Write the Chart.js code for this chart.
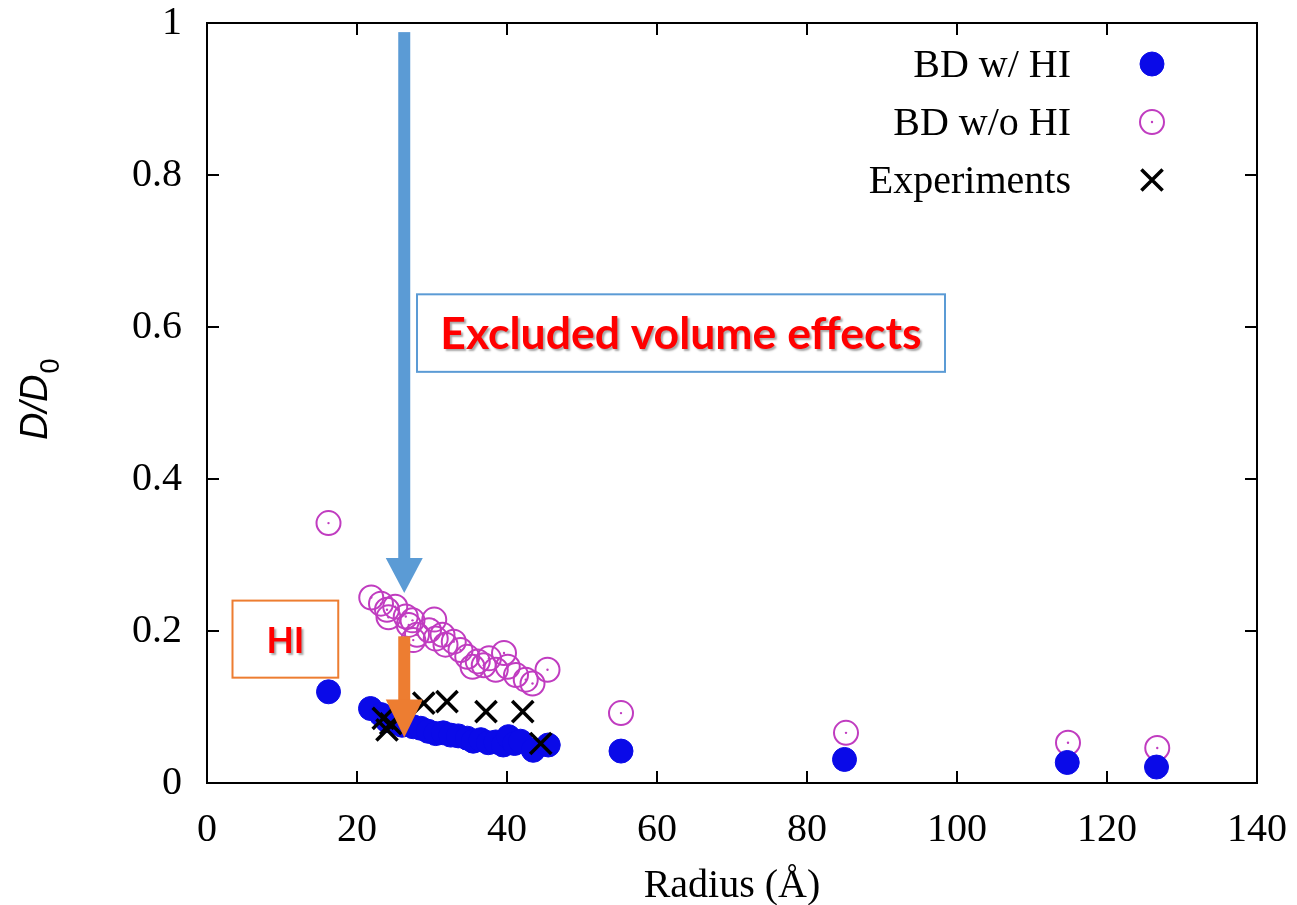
<!DOCTYPE html>
<html>
<head>
<meta charset="utf-8">
<script src="https://cdn.jsdelivr.net/npm/chart.js@4.4.1/dist/chart.umd.min.js"></script>
<style>
  body { margin: 0; background: #fff; }
  #wrap { width: 1297px; height: 905px; }
</style>
</head>
<body>
<div id="wrap"><canvas id="chart" width="1297" height="905"></canvas></div>
<script>
// values, radius in angstrom vs D/D0
var SERIES_LABELS = ["BD w/ HI", "BD w/o HI", "Experiments"];

var bd_hi_x = [16.2, 21.8, 23.2, 24.0, 25.0, 26.0, 27.5, 28.5, 29.5, 30.5, 31.5, 32.5, 33.5, 34.7,
  35.5, 36.5, 37.5, 38.5, 39.5, 40.2, 41.0, 41.8, 43.5, 45.5, 55.2, 85.0, 114.7, 126.6];
var bd_hi_y = [0.120, 0.098, 0.090, 0.082, 0.080, 0.076, 0.074, 0.072, 0.068, 0.065, 0.066, 0.063, 0.062, 0.059,
  0.055, 0.057, 0.053, 0.054, 0.050, 0.061, 0.052, 0.055, 0.043, 0.050, 0.042, 0.031, 0.027, 0.021];

var bd_nohi_x = [16.2, 21.9, 23.2, 24.0, 24.2, 25.1, 26.5, 26.9, 27.4, 27.5, 28.0, 29.6, 30.3, 30.5, 31.4,
  31.8, 32.9, 33.8, 34.7, 35.4, 36.1, 36.9, 37.6, 38.5, 39.6, 40.1, 41.2, 42.5, 43.4, 45.4,
  55.2, 85.2, 114.8, 126.7];
var bd_nohi_y = [0.342, 0.244, 0.236, 0.228, 0.218, 0.232, 0.219, 0.208, 0.214, 0.188, 0.195, 0.201, 0.215, 0.190, 0.195,
  0.182, 0.186, 0.175, 0.166, 0.153, 0.160, 0.155, 0.164, 0.149, 0.171, 0.153, 0.142, 0.136, 0.131, 0.149,
  0.092, 0.066, 0.053, 0.046];

var exp_x = [23.5, 24.0, 24.5, 28.9, 32.0, 37.2, 42.1, 44.5];
var exp_y = [0.085, 0.070, 0.078, 0.105, 0.107, 0.094, 0.094, 0.052];

var X_TICKS = [0, 20, 40, 60, 80, 100, 120, 140];
var Y_TICKS = [0, 0.2, 0.4, 0.6, 0.8, 1];

var SERIF = '"Liberation Serif", "Times New Roman", serif';
var BLUE = '#0a0ae8', PINK = '#c03cc0';

function pts(xs, ys) {
  return xs.map((x, i) => ({ x: x, y: ys[i] }));
}

//inward ticks on all four sides plus the frame, gnuplot style
var framePlugin = {
  id: 'frame',
  afterDatasetsDraw(chart) {
    var ctx = chart.ctx, a = chart.chartArea;
    var xs = chart.scales.x, ys = chart.scales.y;
    ctx.save();
    ctx.strokeStyle = '#000';
    ctx.lineWidth = 2;
    ctx.strokeRect(a.left, a.top, a.right - a.left, a.bottom - a.top);
    ctx.beginPath();
    X_TICKS.slice(1, -1).forEach(v => {
      var px = xs.getPixelForValue(v);
      ctx.moveTo(px, a.bottom); ctx.lineTo(px, a.bottom - 12);
      ctx.moveTo(px, a.top); ctx.lineTo(px, a.top + 12);
    });
    Y_TICKS.slice(1, -1).forEach(v => {
      var py = ys.getPixelForValue(v);
      ctx.moveTo(a.left, py); ctx.lineTo(a.left + 12, py);
      ctx.moveTo(a.right, py); ctx.lineTo(a.right - 12, py);
    });
    ctx.stroke();

    // little centre dot in the open circles
    var meta = chart.getDatasetMeta(1);
    ctx.fillStyle = PINK;
    meta.data.forEach(el => {
      ctx.beginPath();
      ctx.arc(el.x, el.y, 1.2, 0, Math.PI * 2);
      ctx.fill();
    });
    ctx.restore();
  }
};

//legend on the right, text right aligned with marker after it
var legendPlugin = {
  id: 'sideLegend',
  afterDraw(chart) {
    var ctx = chart.ctx;
    var rows = [64, 122, 180];
    ctx.save();
    ctx.font = '40px ' + SERIF;
    ctx.textAlign = 'right';
    ctx.textBaseline = 'middle';
    SERIES_LABELS.forEach((lab, i) => {
      ctx.fillStyle = '#000';
      ctx.fillText(lab, 1071, rows[i] + 2);
      var ds = chart.data.datasets[i];
      ctx.fillStyle = ds.pointBackgroundColor;
      ctx.strokeStyle = ds.pointBorderColor;
      ctx.lineWidth = ds.pointBorderWidth;
      Chart.helpers.drawPoint(ctx, {
        pointStyle: ds.pointStyle,
        radius: ds.pointRadius,
        borderWidth: ds.pointBorderWidth
      }, 1152, rows[i]);
      if (i == 1) {
        ctx.fillStyle = PINK;
        ctx.beginPath();
        ctx.arc(1152, rows[i], 1.2, 0, Math.PI * 2);
        ctx.fill();
      }
    });
    ctx.restore();
  }
};

// annotation arrows and boxes, placed in data coordinates
var ARROWS = [
  { x: 26.3, yFrom: 0.988, yTo: 0.250, color: '#5b9bd5', shaft: 12, headLen: 35, headW: 37 },
  { x: 26.3, yFrom: 0.193, yTo: 0.060, color: '#ed7d31', shaft: 12, headLen: 38, headW: 37 }
];
var BOXES = [
  { x0: 28.0, x1: 98.4, y0: 0.643, y1: 0.541, border: '#5b9bd5', text: 'Excluded volume effects', textW: 481 },
  { x0: 3.4, x1: 17.5, y0: 0.240, y1: 0.1386, border: '#ed7d31', text: 'HI', textW: 38 }
];

var annotPlugin = {
  id: 'annot',
  afterDraw(chart) {
    var ctx = chart.ctx, xs = chart.scales.x, ys = chart.scales.y;
    ctx.save();
    BOXES.forEach(b => {
      var l = xs.getPixelForValue(b.x0), r = xs.getPixelForValue(b.x1);
      var t = ys.getPixelForValue(b.y0), btm = ys.getPixelForValue(b.y1);
      ctx.fillStyle = '#fff';
      ctx.fillRect(l, t, r - l, btm - t);
      ctx.strokeStyle = b.border;
      ctx.lineWidth = 2;
      ctx.strokeRect(l, t, r - l, btm - t);
      // fit the bold text to the width seen in the picture
      var size = 42;
      ctx.font = 'bold ' + size + 'px Lato, "Open Sans", sans-serif';
      var w = ctx.measureText(b.text).width;
      size = size * b.textW / w;
      ctx.font = 'bold ' + size.toFixed(1) + 'px Lato, "Open Sans", sans-serif';
      ctx.textAlign = 'center';
      ctx.textBaseline = 'middle';
      ctx.shadowColor = 'rgba(0,0,0,0.35)';
      ctx.shadowOffsetX = 2;
      ctx.shadowOffsetY = 2;
      ctx.shadowBlur = 2;
      ctx.fillStyle = '#ff0000';
      ctx.fillText(b.text, (l + r) / 2, (t + btm) / 2 + 2);
      ctx.shadowColor = 'transparent';
    });
    ARROWS.forEach(a => {
      var px = xs.getPixelForValue(a.x);
      var top = ys.getPixelForValue(a.yFrom), tip = ys.getPixelForValue(a.yTo);
      ctx.fillStyle = a.color;
      ctx.fillRect(px - a.shaft / 2, top, a.shaft, tip - a.headLen - top + 1);
      ctx.beginPath();
      ctx.moveTo(px - a.headW / 2, tip - a.headLen);
      ctx.lineTo(px + a.headW / 2, tip - a.headLen);
      ctx.lineTo(px, tip);
      ctx.closePath();
      ctx.fill();
    });

    // y axis title D/D0 with subscript, rotated
    ctx.fillStyle = '#000';
    ctx.translate(47, 440);
    ctx.rotate(-Math.PI / 2);
    ctx.textAlign = 'left';
    ctx.textBaseline = 'alphabetic';
    ctx.font = 'italic 38px "Liberation Sans", Arial, sans-serif';
    ctx.fillText('D/D', 0, 0);
    var dw = ctx.measureText('D/D').width;
    ctx.font = '27px "Liberation Sans", Arial, sans-serif';
    ctx.fillText('0', dw + 1, 12);
    ctx.restore();
  }
};

var ctx = document.getElementById('chart').getContext('2d');
var chart = new Chart(ctx, {
  type: 'scatter',
  data: {
    datasets: [
      {
        label: SERIES_LABELS[0],
        data: pts(bd_hi_x, bd_hi_y),
        pointStyle: 'circle',
        pointRadius: 12,
        pointBackgroundColor: BLUE,
        pointBorderColor: BLUE,
        pointBorderWidth: 1,
        order: 1
      },
      {
        label: SERIES_LABELS[1],
        data: pts(bd_nohi_x, bd_nohi_y),
        pointStyle: 'circle',
        pointRadius: 12,
        pointBackgroundColor: 'rgba(0,0,0,0)',
        pointBorderColor: PINK,
        pointBorderWidth: 2,
        order: 2
      },
      {
        label: SERIES_LABELS[2],
        data: pts(exp_x, exp_y),
        pointStyle: 'crossRot',
        pointRadius: 15,
        pointBackgroundColor: '#000',
        pointBorderColor: '#000',
        pointBorderWidth: 3.5,
        order: 0
      }
    ]
  },
  options: {
    responsive: false,
    animation: false,
    events: [],
    layout: { padding: { top: 23, right: 40, left: 0, bottom: 0 } },
    plugins: { legend: { display: false }, tooltip: { enabled: false } },
    scales: {
      x: {
        type: 'linear',
        min: 0, max: 140,
        afterBuildTicks: axis => { axis.ticks = X_TICKS.map(v => ({ value: v })); },
        afterFit: axis => {
          axis.height = 122;
          axis.paddingLeft = 0; axis.paddingRight = 0;
        },
        grid: { display: false },
        border: { display: false },
        ticks: { color: '#000', padding: 15, maxRotation: 0, font: { family: SERIF, size: 40 } },
        title: {
          display: true, text: 'Radius (Å)', color: '#000',
          font: { family: SERIF, size: 40 }, padding: { top: 0, bottom: -5 }
        }
      },
      y: {
        type: 'linear',
        min: 0, max: 1,
        afterBuildTicks: axis => { axis.ticks = Y_TICKS.map(v => ({ value: v })); },
        afterFit: axis => {
          axis.width = 207;
          axis.paddingTop = 0; axis.paddingBottom = 0;
        },
        grid: { display: false },
        border: { display: false },
        ticks: {
          color: '#000', padding: 17, font: { family: SERIF, size: 40 },
          callback: v => String(Math.round(v * 10) / 10)
        }
      }
    }
  },
  plugins: [framePlugin, annotPlugin, legendPlugin]
});
</script>
</body>
</html>
